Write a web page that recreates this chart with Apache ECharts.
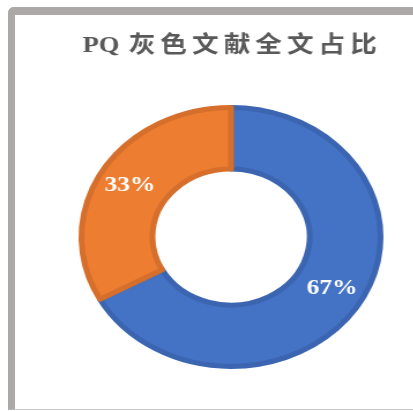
<!DOCTYPE html>
<html>
<head>
<meta charset="utf-8">
<script src="https://cdn.jsdelivr.net/npm/echarts@6/dist/echarts.min.js"></script>
<style>
  html, body { margin: 0; padding: 0; width: 413px; height: 411px; overflow: hidden; background: #fff; }
  #frame {
    position: absolute; left: 8px; top: 7px; width: 420px; height: 403px;
    box-sizing: border-box;
    border-top: 8px solid #aca8a8; border-left: 7px solid #aca8a8;
    border-bottom: 1px solid #c8c8c8;
    border-top-left-radius: 6px;
  }
  /* the reference is stretched horizontally, so the chart is too */
  #chart {
    position: absolute; left: 0; top: 0; width: 400px; height: 411px;
    transform: scaleX(1.155); transform-origin: 0 0;
  }
</style>
</head>
<body>
<div id="frame"></div>
<div id="chart"></div>
<script>
const titleText = 'PQ 灰色文献全文占比';
const categories = ['全文', '非全文'];
const shares = [67, 33];
const colors = ['#4472c4', '#ed7d31'];
const borderColors = ['#3b65b1', '#d56f2b'];

const chart = echarts.init(document.getElementById('chart'));

// 汉字单独成段，用 padding 模拟字间距；拉丁字母保持紧凑
const spacedTitle = titleText.split('')
  .map((ch) => (/[\u4e00-\u9fff]/.test(ch) ? `{t|${ch}}` : `{l|${ch}}`))
  .join('');

const titleFont = '"Liberation Serif", "Noto Sans CJK SC", serif';

chart.setOption({
  animation: false,
  title: {
    text: spacedTitle,
    left: 'center',
    top: 30,
    textStyle: {
      fontFamily: titleFont,
      fontSize: 23,
      fontWeight: 'bold',
      color: '#595959',
      rich: {
        t: {
          fontFamily: titleFont,
          fontSize: 23,
          fontWeight: 'bold',
          color: '#595959',
          padding: [0, 2.2],
        },
        l: {
          fontFamily: titleFont,
          fontSize: 23,
          fontWeight: 'bold',
          color: '#595959',
        },
      },
    },
  },
  series: [
    {
      type: 'pie',
      center: ['50%', 237],
      radius: [68, 129.5],
      startAngle: 90,
      clockwise: true,
      label: {
        show: true,
        position: 'inside',
        formatter: '{c}%',
        color: '#fff',
        fontFamily: '"Liberation Serif", serif',
        fontWeight: 'bold',
        fontSize: 22,
      },
      labelLine: { show: false },
      emphasis: { disabled: true },
      data: categories.map((name, i) => ({
        name,
        value: shares[i],
        itemStyle: {
          color: colors[i],
          borderColor: borderColors[i],
          borderWidth: 5,
        },
      })),
    },
  ],
});
</script>
</body>
</html>
